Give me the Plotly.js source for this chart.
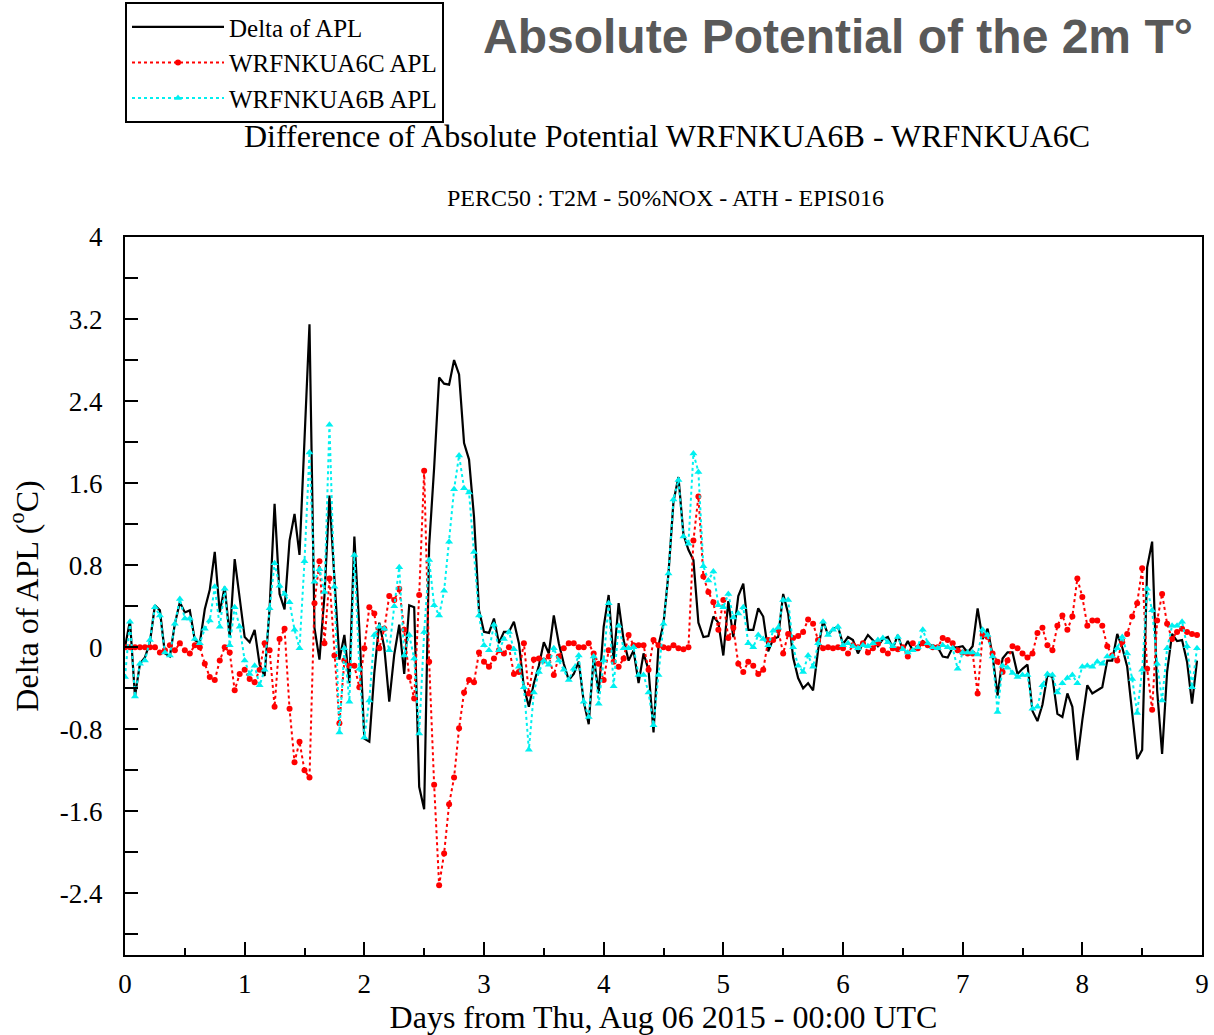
<!DOCTYPE html>
<html>
<head>
<meta charset="utf-8">
<script src="https://cdn.plot.ly/plotly-3.0.1.min.js"></script>
<style>html,body{margin:0;padding:0;background:#fff;}#chart{width:1214px;height:1035px;}</style>
</head>
<body>
<div id="chart"></div>
<script>
// Hourly samples starting Thu, Aug 06 2015 00:00 UTC (x in days)
const hoursPerDay = 24;

const seriesNames = ["Delta of APL", "WRFNKUA6C APL", "WRFNKUA6B APL"];

// y-axis tick labels (hyphen-minus as in the reference)
const yTickValues = [4, 3.2, 2.4, 1.6, 0.8, 0, -0.8, -1.6, -2.4];
const yTickLabels = ["4", "3.2", "2.4", "1.6", "0.8", "0", "-0.8", "-1.6", "-2.4"];

// Delta of APL (WRFNKUA6B - WRFNKUA6C)
const deltaAPL = [
  0, 0.26, -0.48, -0.16, -0.1, 0.05, 0.41, 0.36, -0.06, -0.09,
  0.23, 0.44, 0.34, 0.36, 0.07, 0.04, 0.37, 0.56, 0.93, 0.34,
  0.59, 0.1, 0.86, 0.48, 0.1, 0.05, 0.17, -0.17, -0.28, 0.38,
  1.4, 0.52, 0.37, 1.04, 1.3, 0.9, 1.98, 3.15, 0.19, -0.12,
  0.5, 1.48, 0.67, -0.12, 0.12, -0.35, 1.08, 0.18, -0.89, -0.92,
  -0.25, 0.24, 0.0, -0.53, -0.07, 0.22, -0.26, 0.41, 0.39, -1.36,
  -1.58, 0.99, 1.75, 2.63, 2.57, 2.56, 2.8, 2.66, 1.99, 1.83,
  1.27, 0.36, 0.15, 0.14, 0.28, 0.04, 0.15, 0.15, 0.25, 0.04,
  -0.39, -0.58, -0.35, -0.18, 0.05, -0.06, 0.31, 0.04, -0.16, -0.32,
  -0.26, -0.14, -0.53, -0.75, -0.09, -0.45, 0.2, 0.51, -0.13, 0.43,
  0.07, -0.13, -0.03, -0.35, -0.06, -0.22, -0.83, 0.02, 0.23, 0.72,
  1.42, 1.66, 1.1, 0.95, 0.85, 0.24, 0.1, 0.11, 0.3, 0.24,
  -0.08, 0.45, 0.1, 0.5, 0.62, 0.17, 0.17, 0.38, 0.3, -0.04,
  0.08, 0.1, 0.52, 0.33, -0.1, -0.3, -0.4, -0.35, -0.42, -0.03,
  0.26, 0.12, 0.18, 0.2, 0.03, 0.1, 0.07, -0.06, 0.04, 0.12,
  0.07, 0.01, 0.08, 0.1, -0.01, 0.12, -0.03, 0.06, -0.03, 0.0,
  0.06, 0.02, 0.02, 0.0, -0.09, -0.1, 0.0, 0.0, 0.01, -0.05,
  0.01, 0.38, 0.08, 0.18, -0.08, -0.47, -0.11, -0.05, -0.05, -0.26,
  -0.21, -0.17, -0.62, -0.72, -0.56, -0.27, -0.29, -0.65, -0.68, -0.45,
  -0.58, -1.1, -0.71, -0.37, -0.45, -0.42, -0.39, -0.13, -0.13, 0.13,
  0.0, -0.19, -0.61, -1.09, -1.0, 0.78, 1.03, -0.42, -1.04, -0.24,
  0.13, 0.06, 0.07, -0.14, -0.55, -0.13
];

// WRFNKUA6C APL
const apl6C = [
  0, 0, 0, 0, 0, 0, 0, -0.05, -0.03, 0.02,
  -0.03, 0.04, -0.03, -0.06, 0.02, 0, -0.16, -0.29, -0.32, -0.13,
  0, -0.05, -0.42, -0.26, -0.22, -0.31, -0.34, -0.22, 0.04, -0.03,
  -0.58, 0.08, 0.18, -0.6, -1.12, -0.92, -1.2, -1.27, 0.43, 0.84,
  0.04, 0.67, -0.08, -0.74, -0.13, -0.18, -0.18, -0.39, -0.01, 0.39,
  0.33, -0.01, 0.18, 0.5, 0.46, 0.57, 0.17, -0.29, -0.5, 0.51,
  1.72, -0.14, -1.34, -2.32, -2.01, -1.53, -1.27, -0.79, -0.44, -0.32,
  -0.34, -0.05, -0.14, -0.19, -0.11, -0.03, -0.06, 0.0, -0.26, -0.24,
  0.04, -0.45, -0.12, -0.11, -0.13, -0.09, -0.27, -0.09, -0.01, 0.04,
  0.04, 0.0, 0.0, 0.04, -0.06, -0.16, -0.32, -0.03, -0.14, -0.19,
  -0.11, 0.12, 0.02, 0.02, 0.02, -0.22, 0.07, 0.02, 0.0, -0.01,
  0.02, -0.01, -0.02, 0.0, 1.04, 1.47, 0.69, 0.54, 0.44, 0.17,
  0.46, 0.09, 0.19, -0.16, -0.24, -0.14, -0.18, -0.26, -0.22, 0.07,
  0.07, 0.17, -0.06, 0.13, 0.09, 0.11, 0.15, 0.27, 0.23, 0.07,
  -0.01, 0.0, -0.01, 0.0, -0.01, -0.06, 0.02, 0, 0.04, -0.05,
  -0.01, 0.04, -0.03, -0.06, -0.01, -0.02, 0, -0.09, 0.04, -0.01,
  0.04, 0.02, 0, 0, 0.09, 0.07, 0.04, -0.03, -0.05, -0.06,
  -0.06, -0.45, 0.12, 0.1, -0.06, -0.14, -0.24, -0.13, 0.01, -0.01,
  -0.06, -0.1, -0.06, 0.14, 0.19, 0.02, -0.03, 0.21, 0.31, 0.17,
  0.3, 0.67, 0.49, 0.21, 0.26, 0.26, 0.21, 0.01, -0.08, -0.13,
  0.05, 0.13, 0.3, 0.43, 0.77, -0.21, -0.61, 0.26, 0.52, 0.23,
  0.08, 0.15, 0.18, 0.15, 0.13, 0.12
];

// WRFNKUA6B APL
const apl6B = [
  -0.29, 0.25, -0.48, -0.16, -0.13, 0.07, 0.39, 0.31, -0.05, -0.08,
  0.23, 0.47, 0.28, 0.28, 0.08, 0.04, 0.18, 0.26, 0.59, 0.2,
  0.57, 0.02, 0.39, 0.2, -0.13, -0.26, -0.18, -0.37, -0.22, 0.38,
  0.82, 0.6, 0.52, 0.44, 0.17, -0.01, 0.84, 1.9, 0.64, 0.76,
  0.54, 2.17, 0.59, -0.83, -0.01, -0.53, 0.9, -0.21, -0.88, -0.52,
  0.12, 0.2, 0.18, -0.03, 0.4, 0.78, -0.08, 0.12, -0.11, -0.84,
  0.15, 0.85, 0.41, 0.31, 0.55, 1.03, 1.54, 1.87, 1.55, 1.51,
  0.93, 0.31, 0.02, -0.03, 0.22, -0.03, 0.08, 0.15, -0.02, -0.19,
  -0.39, -1.0, -0.44, -0.24, -0.13, -0.17, -0.01, -0.13, -0.22, -0.32,
  -0.21, -0.08, -0.53, -0.68, -0.09, -0.55, -0.13, 0.43, -0.38, 0.21,
  -0.01, -0.01, 0.0, -0.27, -0.27, -0.44, -0.76, -0.27, 0.23, 0.72,
  1.44, 1.63, 1.08, 1.01, 1.89, 1.71, 0.79, 0.65, 0.74, 0.41,
  0.39, 0.52, 0.29, 0.33, 0.39, 0.04, 0.0, 0.12, 0.08, 0.02,
  0.16, 0.19, 0.46, 0.46, 0.0, -0.18, -0.24, -0.08, -0.19, 0.04,
  0.25, 0.12, 0.17, 0.2, 0.02, 0.04, 0.01, -0.01, 0.02, 0.01,
  0.04, 0.07, 0.09, 0.05, 0.01, 0.1, -0.02, -0.05, -0.03, 0.0,
  0.17, 0.04, 0.0, -0.01, 0.02, 0.0, -0.01, -0.21, -0.05, -0.05,
  -0.05, -0.07, 0.17, 0.12, -0.09, -0.63, -0.18, -0.2, -0.25, -0.29,
  -0.27, -0.27, -0.6, -0.58, -0.37, -0.26, -0.27, -0.44, -0.35, -0.3,
  -0.27, -0.35, -0.19, -0.18, -0.19, -0.14, -0.16, -0.09, -0.09, -0.01,
  0.1, -0.06, -0.31, -0.64, -0.22, 0.57, 0.36, -0.16, -0.52, -0.01,
  0.21, 0.21, 0.25, 0.01, -0.39, -0.01
];

const days = deltaAPL.map((_, i) => i / hoursPerDay);

const serif = "Liberation Serif, Times New Roman, serif";

const traces = [
  {
    x: days, y: deltaAPL, name: seriesNames[0], type: "scatter", mode: "lines",
    line: {color: "#000000", width: 2.2}
  },
  {
    x: days, y: apl6C, name: seriesNames[1], type: "scatter", mode: "lines+markers",
    line: {color: "#ff0000", width: 2, dash: "dot"},
    marker: {color: "#ff0000", size: 6, symbol: "circle"}
  },
  {
    x: days, y: apl6B, name: seriesNames[2], type: "scatter", mode: "lines+markers",
    line: {color: "#00f0f0", width: 2, dash: "dot"},
    marker: {color: "#00f0f0", size: 7, symbol: "triangle-up"}
  }
];

const layout = {
  width: 1214, height: 1035,
  margin: {l: 125, r: 12, t: 237, b: 80, pad: 0, autoexpand: false},
  paper_bgcolor: "#ffffff", plot_bgcolor: "#ffffff",
  font: {family: serif, color: "#000000", size: 26},
  showlegend: true,
  legend: {
    x: 0.0, y: 1.327, xanchor: "left", yanchor: "top",
    bgcolor: "#ffffff", bordercolor: "#000000", borderwidth: 2,
    font: {family: serif, size: 25, color: "#000000"},
    itemwidth: 92, tracegroupgap: 0
  },
  xaxis: {
    range: [0, 9], dtick: 1, tick0: 0,
    showgrid: false, zeroline: false,
    showline: true, linecolor: "#000000", linewidth: 2, mirror: true,
    ticks: "inside", ticklen: 13, tickwidth: 2, tickcolor: "#000000",
    minor: {dtick: 0.5, ticks: "inside", ticklen: 7, tickwidth: 2, tickcolor: "#000000", showgrid: false},
    tickfont: {family: serif, size: 27, color: "#000000"},
    ticklabelstandoff: 4,
    title: {text: "Days from Thu, Aug 06 2015 - 00:00 UTC", font: {family: serif, size: 32, color: "#000000"}, standoff: 12}
  },
  yaxis: {
    range: [-3, 4], tickmode: "array", tickvals: yTickValues, ticktext: yTickLabels,
    showgrid: false, zeroline: false,
    showline: true, linecolor: "#000000", linewidth: 2, mirror: true,
    ticks: "inside", ticklen: 13, tickwidth: 2, tickcolor: "#000000",
    minor: {dtick: 0.4, tick0: 0, ticks: "inside", ticklen: 13, tickwidth: 2, tickcolor: "#000000", showgrid: false},
    tickfont: {family: serif, size: 27, color: "#000000"},
    ticklabelstandoff: 15,
    title: {text: "Delta of APL (<sup>o</sup>C)", font: {family: serif, size: 32, color: "#000000"}, standoff: 12}
  },
  annotations: [
    {
      text: "<b>Absolute Potential of the 2m T°</b>", xref: "paper", yref: "paper",
      x: 0.9935, y: 1.279, xanchor: "right", yanchor: "middle", showarrow: false,
      font: {family: "Liberation Sans, Arial, sans-serif", size: 48, color: "#595959"}
    },
    {
      text: "Difference of Absolute Potential WRFNKUA6B - WRFNKUA6C", xref: "paper", yref: "paper",
      x: 0.503, y: 1.14, xanchor: "center", yanchor: "middle", showarrow: false,
      font: {family: serif, size: 32, color: "#000000"}
    },
    {
      text: "PERC50 : T2M - 50%NOX - ATH - EPIS016", xref: "paper", yref: "paper",
      x: 0.502, y: 1.055, xanchor: "center", yanchor: "middle", showarrow: false,
      font: {family: serif, size: 24, color: "#000000"}
    }
  ]
};

Plotly.newPlot("chart", traces, layout, {displayModeBar: false, staticPlot: true});
</script>
</body>
</html>
